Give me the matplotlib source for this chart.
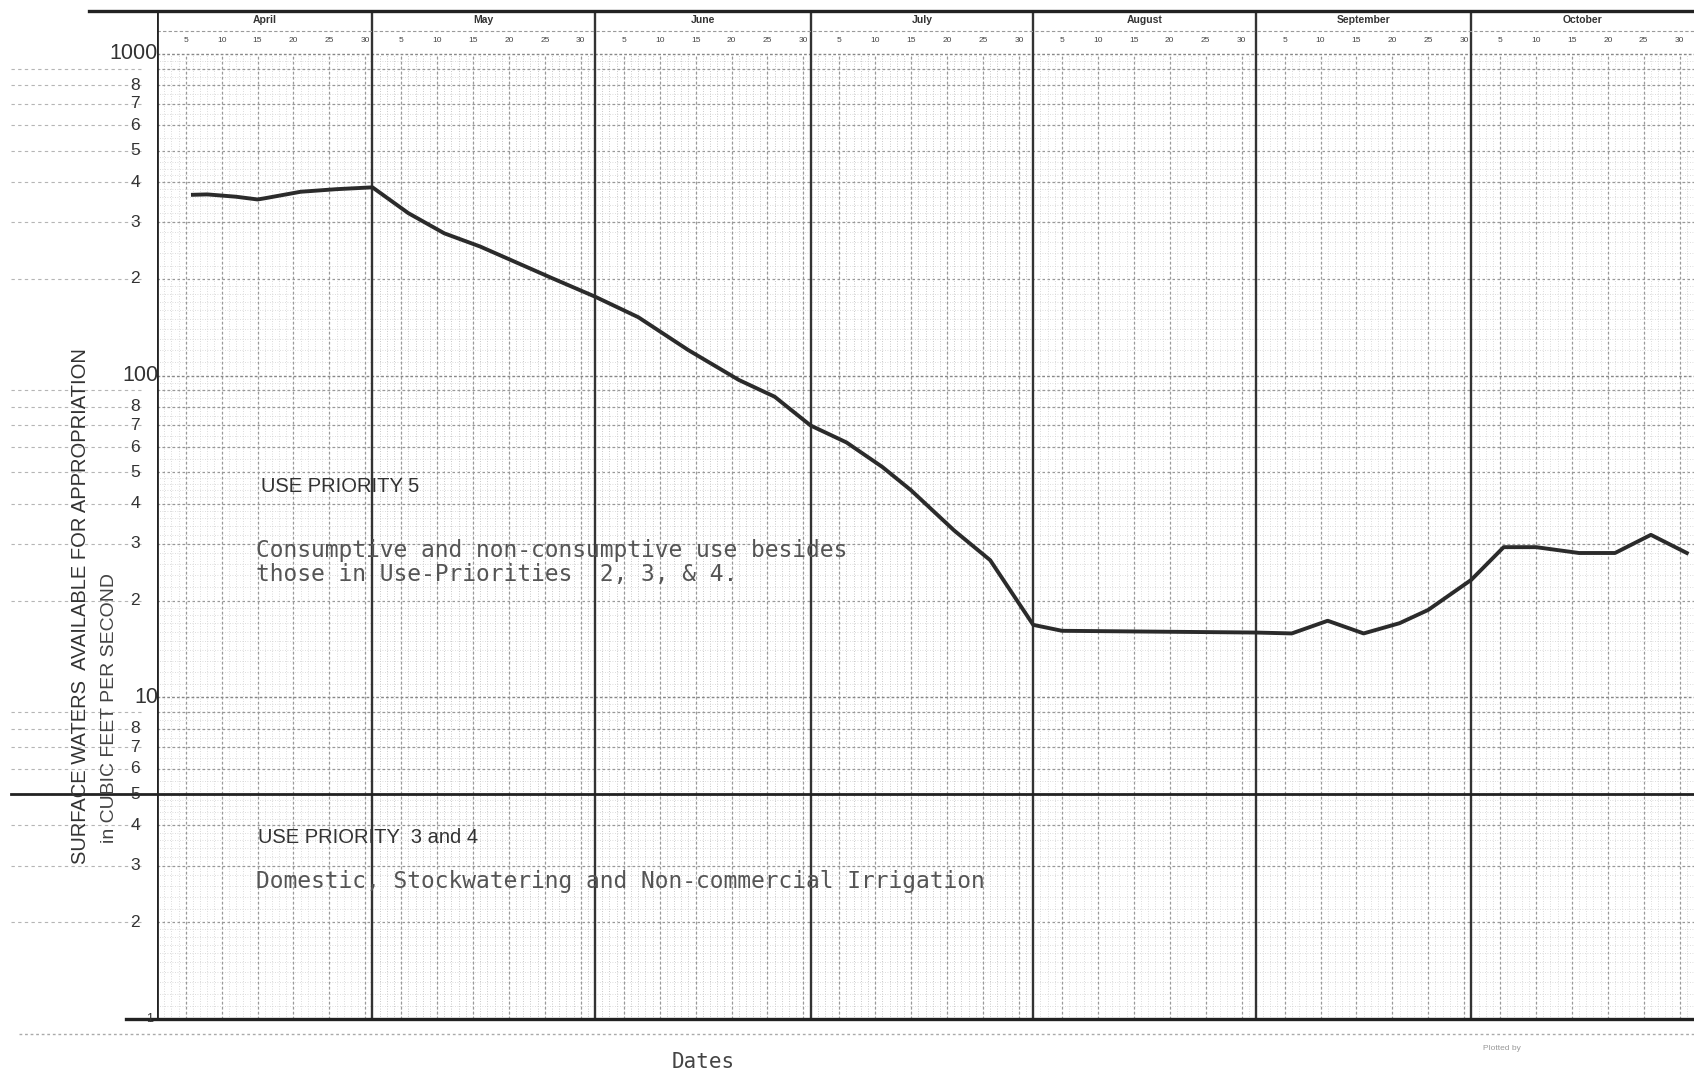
import numpy as np
import matplotlib
matplotlib.use("Agg")
import matplotlib.pyplot as plt
import matplotlib.transforms as mtransforms

# ---------------- data ----------------
months = ["April", "May", "June", "July", "August", "September", "October"]
month_lengths = [30, 31, 30, 31, 31, 30, 31]
header_day_numbers = [5, 10, 15, 20, 25, 30]

# days counted from April 1 (0) ; flow in cubic feet per second
days = [5, 7, 11, 14, 15, 20, 25, 30, 35, 40, 45, 55, 61, 67, 74, 81, 86,
        91, 96, 101, 105, 111, 116, 122, 126, 153, 158, 163, 168, 173, 177,
        183, 187.5, 192, 198, 203, 208, 213]
cfs = [365, 366, 360, 353, 356, 373, 380, 385, 320, 277, 252, 201, 176, 152,
       120, 97, 86, 70, 62, 52, 44, 33, 26.7, 16.8, 16.1, 15.9, 15.8, 17.3,
       15.8, 17.0, 18.7, 23.2, 29.3, 29.3, 28.1, 28.1, 32, 28.1]

ytick_values = [1, 2, 3, 4, 5, 6, 7, 8, 10, 20, 30, 40, 50, 60, 70, 80,
                100, 200, 300, 400, 500, 600, 700, 800, 1000]
ytick_labels = ["1", "2", "3", "4", "5", "6", "7", "8", "10", "2", "3", "4",
                "5", "6", "7", "8", "100", "2", "3", "4", "5", "6", "7", "8",
                "1000"]
boundary_value = 5

ylabel1 = "SURFACE WATERS  AVAILABLE FOR APPROPRIATION"
ylabel2 = "in CUBIC FEET PER SECOND"
p5_title = "USE PRIORITY 5"
p5_text = ["Consumptive and non-consumptive use besides",
           "those in Use-Priorities  2, 3, & 4."]
p34_title = "USE PRIORITY  3 and 4"
p34_text = "Domestic, Stockwatering and Non-commercial Irrigation"
xlabel = "Dates"

# ---------------- layout ----------------
W, H = 1694, 1076
fig = plt.figure(figsize=(W / 100, H / 100), dpi=100)
fig.patch.set_facecolor("white")
ax_left, ax_bottom = 157 / W, 1 - 1019 / H
ax = fig.add_axes([ax_left, ax_bottom, 1 - ax_left, (1019 - 11) / H])
ax.set_yscale("log")
total_days = sum(month_lengths)
ax.set_xlim(0, total_days)
ymax = 10 ** (3 + 43 / 321.7)
ax.set_ylim(1, ymax)
ax.set_xticks([])
ax.set_yticks([])
ax.minorticks_off()
for s in ax.spines.values():
    s.set_visible(False)

blend_y = mtransforms.blended_transform_factory(ax.transAxes, ax.transData)
blend_x = mtransforms.blended_transform_factory(ax.transData, ax.transAxes)

# ---------------- graph paper ----------------
month_starts = np.cumsum([0] + month_lengths[:-1])
dense_start, dense_end = month_starts[1], month_starts[4]
for d in range(total_days + 1):
    col = "#b8b8b8" if dense_start <= d <= dense_end else "#d0d0d0"
    ax.plot([d, d], [1, 1000], color=col, lw=0.6, ls=(0, (1, 2)), zorder=1)
for ms, ml in zip(month_starts, month_lengths):
    for dn in header_day_numbers:
        if dn <= ml:
            x = ms + dn - 1
            ax.plot([x, x], [1, 1000], color="#9a9a9a", lw=0.9,
                    ls=(0, (2, 2)), zorder=1.5)

for dec in [1, 10, 100]:
    fine = list(np.arange(1.1, 2.0, 0.1)) + list(np.arange(2.2, 5.0, 0.2)) + \
        list(np.arange(5.5, 10.0, 0.5))
    for m in fine:
        ax.axhline(m * dec, color="#d2d2d2", lw=0.6, ls=(0, (1, 2)), zorder=1)
    for m in range(2, 10):
        ax.axhline(m * dec, color="#999999", lw=0.9, ls=(0, (2, 2)), zorder=1.5)
        ax.plot([-0.095, -0.01], [m * dec, m * dec], transform=blend_y,
                color="#b5b5b5", lw=0.8, ls=(0, (3, 3)), clip_on=False, zorder=1)
    ax.axhline(dec * 10, color="#888888", lw=1.0, ls=(0, (2, 1.5)), zorder=1.5)

# month separators (full height)
for ms in list(month_starts[1:]):
    ax.axvline(ms, color="#333333", lw=1.7, zorder=2)
# left axis line
ax.axvline(0, color="#222222", lw=2.0, zorder=3)

# boundary between priorities
ax.plot([-0.095, 1.0], [boundary_value, boundary_value], transform=blend_y,
        color="#222222", lw=2.0, clip_on=False, zorder=3)
# bottom line
ax.plot([-0.02, 1.0], [1, 1], transform=blend_y, color="#222222", lw=2.4,
        clip_on=False, zorder=3)
ax.plot([-0.09, 1.0], [-0.015, -0.015], transform=ax.transAxes,
        color="#aaaaaa", lw=1.0, ls=(0, (2, 2)), clip_on=False, zorder=1)
# top frame line
ax.plot([-0.044, 1.0], [1.0, 1.0], transform=ax.transAxes, color="#222222",
        lw=2.4, clip_on=False, zorder=3)

# ---------------- header ----------------
y_month = (1019 - 21) / 1007
y_sep = (1019 - 32) / 1007
y_days = (1019 - 41) / 1007
ax.plot([0, 1], [y_sep, y_sep], transform=ax.transAxes, color="#9a9a9a",
        lw=0.8, ls=(0, (3, 2)), zorder=2)
for name, ms, ml in zip(months, month_starts, month_lengths):
    ax.text(ms + ml / 2, y_month, name, transform=blend_x, ha="center",
            va="center", fontsize=7.5, fontweight="bold", color="#333333",
            family="Liberation Sans")
    for dn in header_day_numbers:
        if dn <= ml:
            ax.text(ms + dn - 1, y_days, str(dn), transform=blend_x,
                    ha="center", va="center", fontsize=6, color="#444444",
                    family="Liberation Sans")

# ---------------- data line ----------------
ax.plot(days, cfs, color="#2b2b2b", lw=2.8, solid_joinstyle="round", zorder=5)

# ---------------- y tick labels ----------------
for v, lab in zip(ytick_values, ytick_labels):
    if len(lab) == 1 and v != 1:
        ax.text((135 - 157) / 1537, v, lab, transform=blend_y, ha="center",
                va="center", fontsize=12.5, color="#333333",
                family="Liberation Sans", clip_on=False)
    elif v == 1:
        ax.text((153 - 157) / 1537, v, lab, transform=blend_y, ha="right",
                va="center", fontsize=9, color="#333333",
                family="Liberation Sans", clip_on=False)
    else:
        ax.text((158 - 157) / 1537, v, lab, transform=blend_y, ha="right",
                va="center", fontsize=15.5, color="#333333",
                family="Liberation Sans", clip_on=False)

# ---------------- annotations ----------------
mono = "DejaVu Sans Mono"
ax.text((261 - 157) / 1537, (1019 - 487) / 1007, p5_title,
        transform=ax.transAxes, ha="left", va="center", fontsize=14.5,
        color="#333333", family=["Liberation Sans Narrow", "Liberation Sans"],
        zorder=6)
for i, line in enumerate(p5_text):
    ax.text((256 - 157) / 1537, (1019 - (551 + 24 * i)) / 1007, line,
            transform=ax.transAxes, ha="left", va="center", fontsize=16.5,
            color="#555555", family=mono, zorder=6)
ax.text((258 - 157) / 1537, (1019 - 838) / 1007, p34_title,
        transform=ax.transAxes, ha="left", va="center", fontsize=14.5,
        color="#333333", family=["Liberation Sans Narrow", "Liberation Sans"],
        zorder=6)
ax.text((256 - 157) / 1537, (1019 - 882) / 1007, p34_text,
        transform=ax.transAxes, ha="left", va="center", fontsize=16.5,
        color="#555555", family=mono, zorder=6)

fig.text(80 / W, 1 - 606 / H, ylabel1, rotation=90, ha="center", va="center",
         fontsize=14.5, color="#333333", family="Liberation Sans")
fig.text(110 / W, 1 - 708 / H, ylabel2, rotation=90, ha="center",
         va="center", fontsize=14, color="#444444", family="Liberation Sans")
fig.text(703 / W, 1 - 1062 / H, xlabel, ha="center", va="center",
         fontsize=15, color="#444444", family=mono)
fig.text(1502 / W, 1 - 1048 / H, "Plotted by", ha="center", va="center",
         fontsize=6, color="#999999", family="Liberation Sans")

fig.savefig("out.png", dpi=100, facecolor="white")
